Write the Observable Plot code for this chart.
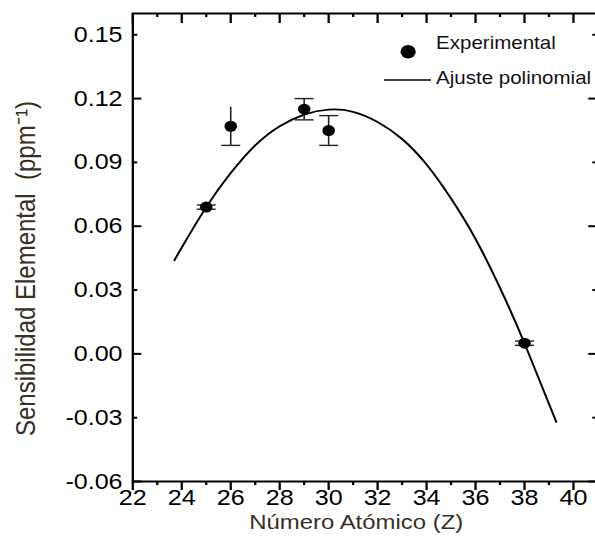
<!DOCTYPE html>
<html>
<head>
<meta charset="utf-8">
<script src="https://cdn.jsdelivr.net/npm/d3@7"></script>
<script src="https://cdn.jsdelivr.net/npm/@observablehq/plot@0.6"></script>
<style>
  html, body { margin: 0; padding: 0; background: white; overflow: hidden; }
  #chart svg { display: block; transform-origin: 0 0; transform: scaleX(1.14); }
</style>
</head>
<body>
<div id="chart"></div>
<script>
// Experimental points (Z, sensitivity, error)
const expZ = [25, 26, 29, 30, 38];
const expS = [0.069, 0.107, 0.115, 0.105, 0.005];
const expErr = [0.001, 0.009, 0.005, 0.007, 0.001];
const capTop = [true, false, true, true, true];

// Polynomial fit curve
const fitZ = [23.7, 24, 25, 26, 27, 28, 29, 30, 31, 32, 33, 34, 35, 36, 37, 38, 39.3];
const fitS = [0.044, 0.050, 0.069, 0.085, 0.098, 0.107, 0.1125, 0.1148, 0.1138, 0.109, 0.101, 0.089, 0.073, 0.054, 0.031, 0.005, -0.032];

// Ticks
const xMajor = [22, 24, 26, 28, 30, 32, 34, 36, 38, 40];
const xMinor = [23, 25, 27, 29, 31, 33, 35, 37, 39];
const yLabels = [-0.06, -0.03, 0, 0.03, 0.06, 0.09, 0.12, 0.15];
const yMajor = [-0.06, 0, 0.06, 0.12];
const yMinor = [-0.03, 0.03, 0.09, 0.15];

const xTitle = "Número Atómico (Z)";
const yTitle = "Sensibilidad Elemental  (ppm⁻¹)";
const legendLabels = ["Experimental", "Ajuste polinomial"];

const points = expZ.map((z, i) => ({z, s: expS[i], e: expErr[i], top: capTop[i]}));
const fit = fitZ.map((z, i) => ({z, s: fitS[i]}));

const W = 524, H = 547, ML = 116, MR = 0, MT = 13, MB = 66;
const FW = W - ML - MR, FH = H - MT - MB;

const hline = (hw) => ({draw(ctx) { ctx.moveTo(-hw, 0); ctx.lineTo(hw, 0); }});
const titleColor = "#3b2f24";

const chart = Plot.plot({
  width: W, height: H,
  marginLeft: ML, marginRight: MR, marginTop: MT, marginBottom: MB,
  x: {domain: [22, 41]},
  y: {domain: [-0.06, 0.16]},
  style: {fontFamily: "'Liberation Sans', Arial, sans-serif", background: "white", color: "black"},
  marks: [
    // ticks
    Plot.tickX(xMajor, {x: d => d, insetTop: FH, insetBottom: -9, strokeWidth: 2}),
    Plot.tickX(xMinor, {x: d => d, insetTop: FH, insetBottom: -4, strokeWidth: 2}),
    Plot.tickX(xMajor, {x: d => d, insetTop: 0, insetBottom: FH - 10, strokeWidth: 2}),
    Plot.tickX(xMinor, {x: d => d, insetTop: 0, insetBottom: FH - 4, strokeWidth: 2}),
    Plot.tickY(yMajor, {y: d => d, insetLeft: 0, insetRight: FW - 8, strokeWidth: 2}),
    Plot.tickY(yMinor, {y: d => d, insetLeft: 0, insetRight: FW - 4.4, strokeWidth: 2}),
    Plot.tickY(yMajor, {y: d => d, insetLeft: FW - 8, insetRight: 0, strokeWidth: 2}),
    Plot.tickY(yMinor, {y: d => d, insetLeft: FW - 4.4, insetRight: 0, strokeWidth: 2}),
    Plot.frame({stroke: "black", strokeWidth: 2}),
    // tick labels
    Plot.axisX({ticks: xMajor, tickSize: 0, tickPadding: 8, tickFormat: d => String(d), fontSize: 22, label: null}),
    Plot.axisY({ticks: yLabels, tickSize: 0, tickPadding: 9, tickFormat: d => d.toFixed(2), fontSize: 22, label: null}),
    // axis titles
    Plot.text([xTitle], {text: d => d, frameAnchor: "bottom", dx: -8, dy: 33, lineAnchor: "top", textAnchor: "middle", fontSize: 21, fill: titleColor}),
    Plot.text([yTitle], {text: d => d, frameAnchor: "left", rotate: -90, dx: -103, dy: 21, lineAnchor: "top", textAnchor: "middle", fontSize: 24, fill: titleColor}),
    // fit curve
    Plot.line(fit, {x: "z", y: "s", curve: "natural", stroke: "black", strokeWidth: 1.8}),
    // error bars
    Plot.ruleX(points, {x: "z", y1: d => d.s - d.e, y2: d => d.s + d.e, stroke: "#222", strokeWidth: 1.4}),
    Plot.dot(points, {x: "z", y: d => d.s - d.e, symbol: hline(8.3), r: 3, fill: "none", stroke: "#222", strokeWidth: 1.4}),
    Plot.dot(points.filter(d => d.top), {x: "z", y: d => d.s + d.e, symbol: hline(8.3), r: 3, fill: "none", stroke: "#222", strokeWidth: 1.4}),
    // points
    Plot.dot(points, {x: "z", y: "s", r: 5.5, fill: "black", stroke: "none"}),
    // legend
    Plot.dot([legendLabels[0]], {frameAnchor: "top-left", dx: 241.5, dy: 38.3, r: 6.7, fill: "black", stroke: "none"}),
    Plot.dot([legendLabels[1]], {frameAnchor: "top-left", dx: 241, dy: 66.5, symbol: hline(20.6), r: 3, fill: "none", stroke: "black", strokeWidth: 1.5}),
    Plot.text([legendLabels[0]], {text: d => d, frameAnchor: "top-left", dx: 266, dy: 29.8, textAnchor: "start", lineAnchor: "middle", fontSize: 18, fill: "#141018"}),
    Plot.text([legendLabels[1]], {text: d => d, frameAnchor: "top-left", dx: 266, dy: 64.8, textAnchor: "start", lineAnchor: "middle", fontSize: 18, fill: "#141018"})
  ]
});
document.getElementById("chart").appendChild(chart);
</script>
</body>
</html>
